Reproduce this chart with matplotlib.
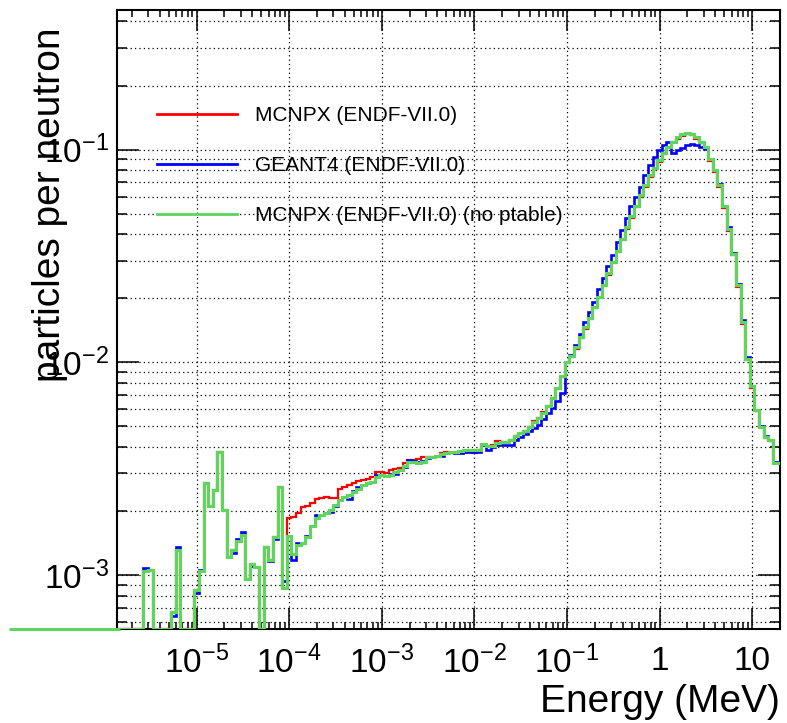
import numpy as np
import matplotlib
matplotlib.use("Agg")
import matplotlib.pyplot as plt
from matplotlib.ticker import LogLocator, FuncFormatter, NullFormatter
from matplotlib.lines import Line2D

plt.rcParams['font.family'] = ['Liberation Sans', 'DejaVu Sans']
plt.rcParams['mathtext.fontset'] = 'custom'
plt.rcParams['mathtext.rm'] = 'Liberation Sans'

# bins: 20 per decade, centres at 10^(k/20), from 1e-7 to 20 MeV
bin_k = np.arange(-140, 27)

# E < 1e-4 MeV : empty bins, then the resonance spikes (c = -5.55 ... -4.05)
zero_pad = [0.0] * 29
low_green = [1.04e-3, 1.05e-3, 0, 0, 0, 0, 6.7e-4, 1.31e-3, 0, 0,
             0, 8.5e-4, 1.04e-3, 2.70e-3, 2.11e-3, 2.51e-3, 3.78e-3, 2.02e-3, 1.22e-3, 1.31e-3,
             1.44e-3, 1.54e-3, 9.6e-4, 1.12e-3, 1.09e-3, 0, 1.36e-3, 1.18e-3, 1.51e-3, 2.60e-3,
             8.65e-4]
low_blue = [1.08e-3, 1.05e-3, 0, 0, 0, 0, 6.4e-4, 1.36e-3, 0, 0,
            0, 8.2e-4, 1.06e-3, 2.70e-3, 2.11e-3, 2.51e-3, 3.78e-3, 2.02e-3, 1.22e-3, 1.27e-3,
            1.48e-3, 1.60e-3, 9.6e-4, 1.10e-3, 1.09e-3, 0, 1.36e-3, 1.16e-3, 1.48e-3, 2.60e-3,
            9.4e-4]

# 1e-4 ... 0.1 MeV (c = -4.00 ... -1.05)
mid_red = [1.85e-3, 1.88e-3, 1.95e-3, 2.08e-3, 2.11e-3, 2.17e-3, 2.27e-3, 2.31e-3, 2.33e-3, 2.31e-3,
           2.30e-3, 2.53e-3, 2.58e-3, 2.65e-3, 2.70e-3, 2.77e-3, 2.80e-3, 2.84e-3, 2.88e-3, 3.06e-3,
           3.06e-3, 3.00e-3, 3.11e-3, 3.14e-3, 3.20e-3, 3.37e-3, 3.47e-3, 3.47e-3, 3.50e-3, 3.57e-3,
           3.60e-3, 3.60e-3, 3.59e-3, 3.76e-3, 3.79e-3, 3.75e-3, 3.75e-3, 3.75e-3, 3.79e-3, 3.79e-3,
           3.75e-3, 3.85e-3, 4.10e-3, 4.02e-3, 4.08e-3, 4.27e-3, 4.23e-3, 4.20e-3, 4.30e-3, 4.50e-3,
           4.60e-3, 4.75e-3, 4.95e-3, 5.30e-3, 5.45e-3, 5.85e-3, 6.20e-3, 6.80e-3, 7.50e-3, 8.50e-3]
mid_blue = [1.53e-3, 1.18e-3, 1.42e-3, 1.42e-3, 1.53e-3, 1.70e-3, 1.91e-3, 1.92e-3, 1.95e-3, 1.98e-3,
            2.10e-3, 2.25e-3, 2.33e-3, 2.27e-3, 2.48e-3, 2.58e-3, 2.65e-3, 2.70e-3, 2.75e-3, 2.95e-3,
            2.95e-3, 2.93e-3, 2.98e-3, 2.98e-3, 3.10e-3, 3.22e-3, 3.47e-3, 3.45e-3, 3.38e-3, 3.45e-3,
            3.53e-3, 3.57e-3, 3.62e-3, 3.62e-3, 3.75e-3, 3.77e-3, 3.75e-3, 3.75e-3, 3.79e-3, 3.79e-3,
            3.80e-3, 3.80e-3, 4.08e-3, 3.87e-3, 4.00e-3, 4.08e-3, 4.10e-3, 4.10e-3, 4.10e-3, 4.30e-3,
            4.45e-3, 4.60e-3, 4.75e-3, 4.90e-3, 5.05e-3, 5.40e-3, 5.75e-3, 6.10e-3, 6.60e-3, 7.20e-3]
mid_green = [1.53e-3, 1.25e-3, 1.38e-3, 1.42e-3, 1.51e-3, 1.69e-3, 1.85e-3, 1.91e-3, 1.95e-3, 2.02e-3,
             2.13e-3, 2.25e-3, 2.33e-3, 2.38e-3, 2.46e-3, 2.53e-3, 2.65e-3, 2.70e-3, 2.75e-3, 2.90e-3,
             2.95e-3, 2.93e-3, 2.95e-3, 3.06e-3, 3.13e-3, 3.25e-3, 3.41e-3, 3.38e-3, 3.35e-3, 3.41e-3,
             3.57e-3, 3.59e-3, 3.62e-3, 3.70e-3, 3.75e-3, 3.77e-3, 3.79e-3, 3.82e-3, 3.87e-3, 3.87e-3,
             3.87e-3, 3.87e-3, 4.13e-3, 4.04e-3, 4.04e-3, 4.16e-3, 4.23e-3, 4.23e-3, 4.31e-3, 4.51e-3,
             4.63e-3, 4.76e-3, 4.97e-3, 5.26e-3, 5.45e-3, 5.80e-3, 6.20e-3, 6.80e-3, 7.60e-3, 8.60e-3]

# 0.1 ... 20 MeV (c = -1.00 ... 1.30)
high_red = [9.90e-3, 1.06e-2, 1.16e-2, 1.30e-2, 1.44e-2, 1.60e-2, 1.80e-2, 2.00e-2, 2.28e-2, 2.58e-2,
            2.92e-2, 3.30e-2, 3.74e-2, 4.23e-2, 4.77e-2, 5.37e-2, 6.00e-2, 6.70e-2, 7.45e-2, 8.10e-2,
            8.78e-2, 9.48e-2, 1.02e-1, 1.08e-1, 1.12e-1, 1.16e-1, 1.18e-1, 1.17e-1, 1.12e-1, 1.07e-1,
            1.01e-1, 8.85e-2, 7.85e-2, 6.68e-2, 5.30e-2, 4.16e-2, 3.18e-2, 2.27e-2, 1.52e-2, 1.02e-2,
            7.55e-3, 5.90e-3, 4.95e-3, 4.40e-3, 4.28e-3, 3.35e-3, 3.35e-3]
high_blue = [1.00e-2, 1.08e-2, 1.20e-2, 1.36e-2, 1.55e-2, 1.73e-2, 1.92e-2, 2.20e-2, 2.48e-2, 2.82e-2,
             3.20e-2, 3.68e-2, 4.18e-2, 4.75e-2, 5.40e-2, 6.00e-2, 6.70e-2, 7.60e-2, 8.45e-2, 9.20e-2,
             9.90e-2, 1.05e-1, 1.08e-1, 9.60e-2, 1.00e-1, 1.02e-1, 1.05e-1, 1.06e-1, 1.05e-1, 1.03e-1,
             1.01e-1, 9.00e-2, 8.00e-2, 6.85e-2, 5.40e-2, 4.30e-2, 3.28e-2, 2.33e-2, 1.58e-2, 1.06e-2,
             7.70e-3, 5.96e-3, 5.00e-3, 4.48e-3, 4.31e-3, 3.40e-3, 3.40e-3]
high_green = [1.00e-2, 1.07e-2, 1.18e-2, 1.32e-2, 1.46e-2, 1.62e-2, 1.82e-2, 2.03e-2, 2.32e-2, 2.62e-2,
              2.97e-2, 3.35e-2, 3.80e-2, 4.30e-2, 4.85e-2, 5.45e-2, 6.10e-2, 6.80e-2, 7.55e-2, 8.20e-2,
              8.90e-2, 9.60e-2, 1.03e-1, 1.09e-1, 1.14e-1, 1.18e-1, 1.20e-1, 1.18e-1, 1.14e-1, 1.09e-1,
              1.03e-1, 9.00e-2, 8.00e-2, 6.80e-2, 5.40e-2, 4.24e-2, 3.24e-2, 2.31e-2, 1.55e-2, 1.04e-2,
              7.70e-3, 5.96e-3, 4.98e-3, 4.43e-3, 4.31e-3, 3.37e-3, 3.37e-3]

mcnpx = np.array(zero_pad + low_green + mid_red + high_red)
geant4 = np.array(zero_pad + low_blue + mid_blue + high_blue)
mcnpx_noptable = np.array(zero_pad + low_green + mid_green + high_green)

labels = ["MCNPX (ENDF-VII.0)", "GEANT4 (ENDF-VII.0)", "MCNPX (ENDF-VII.0) (no ptable)"]
colors = ["#ff0000", "#0000ff", "#5cd65c"]

x_lo, x_hi = 1.4e-6, 20.0
y_lo, y_hi = 5.57e-4, 0.453

edges = 10 ** ((np.append(bin_k, bin_k[-1] + 1) - 0.5) / 20)

fig = plt.figure(figsize=(7.87, 7.23), dpi=100)
ax = fig.add_axes([0.1493, 0.1300, 0.8418, 0.8562])

series = [mcnpx, geant4, mcnpx_noptable]
widths = [1.6, 1.9, 2.2]
for vals, col, lw in zip(series, colors, widths):
    # empty bins sit on the lower edge of the frame, like ROOT draws them
    ax.stairs(np.maximum(vals, y_lo), edges, baseline=None, color=col, lw=lw, zorder=3)

# ROOT leaks the empty green bins to the left of the frame
n_out = np.searchsorted(edges, x_lo)
ax.stairs(np.maximum(mcnpx_noptable[:n_out], y_lo), edges[:n_out + 1], baseline=None,
          color=colors[2], lw=widths[2], zorder=3, clip_on=False)

ax.set_xscale("log")
ax.set_yscale("log")
ax.set_xlim(x_lo, x_hi)
ax.set_ylim(y_lo, y_hi)


def dec_label(v, pos):
    e = int(round(np.log10(v)))
    if e >= 0:
        return str(10 ** e)
    return r"$\mathregular{10^{%d}}$" % e


for axis in (ax.xaxis, ax.yaxis):
    axis.set_major_locator(LogLocator(base=10, numticks=20))
    axis.set_minor_locator(LogLocator(base=10, subs=np.arange(2, 10), numticks=20))
    axis.set_major_formatter(FuncFormatter(dec_label))
    axis.set_minor_formatter(NullFormatter())

ax.tick_params(which="both", direction="in", top=True, right=True, width=1.1, color="black")
ax.tick_params(axis="x", which="major", length=15, labelsize=24, pad=12)
ax.tick_params(axis="x", which="minor", length=5)
ax.tick_params(axis="y", which="major", length=16, labelsize=24, pad=6)
ax.tick_params(axis="y", which="minor", length=7.5)

ax.grid(True, which="major", axis="x", color="black", ls=(0, (1, 2.5)), lw=0.9)
ax.grid(True, which="both", axis="y", color="black", ls=(0, (1, 2.5)), lw=0.9)

for sp in ax.spines.values():
    sp.set_linewidth(1.5)

handles = [Line2D([], [], color=c, lw=2) for c in colors]
ax.legend(handles, labels, loc="upper left", bbox_to_anchor=(0.0596, 0.845),
          frameon=False, fontsize=15, handlelength=3.85, handletextpad=0.87,
          labelspacing=1.5, borderpad=0, borderaxespad=0)

fig.text(50 / 787, 1 - 28 / 723, "particles per neutron", rotation=90,
         ha="center", va="top", fontsize=28)
fig.text(780 / 787, 1 - 712 / 723, "Energy (MeV)", ha="right", va="baseline", fontsize=28)

fig.savefig("out.png", dpi=100)
